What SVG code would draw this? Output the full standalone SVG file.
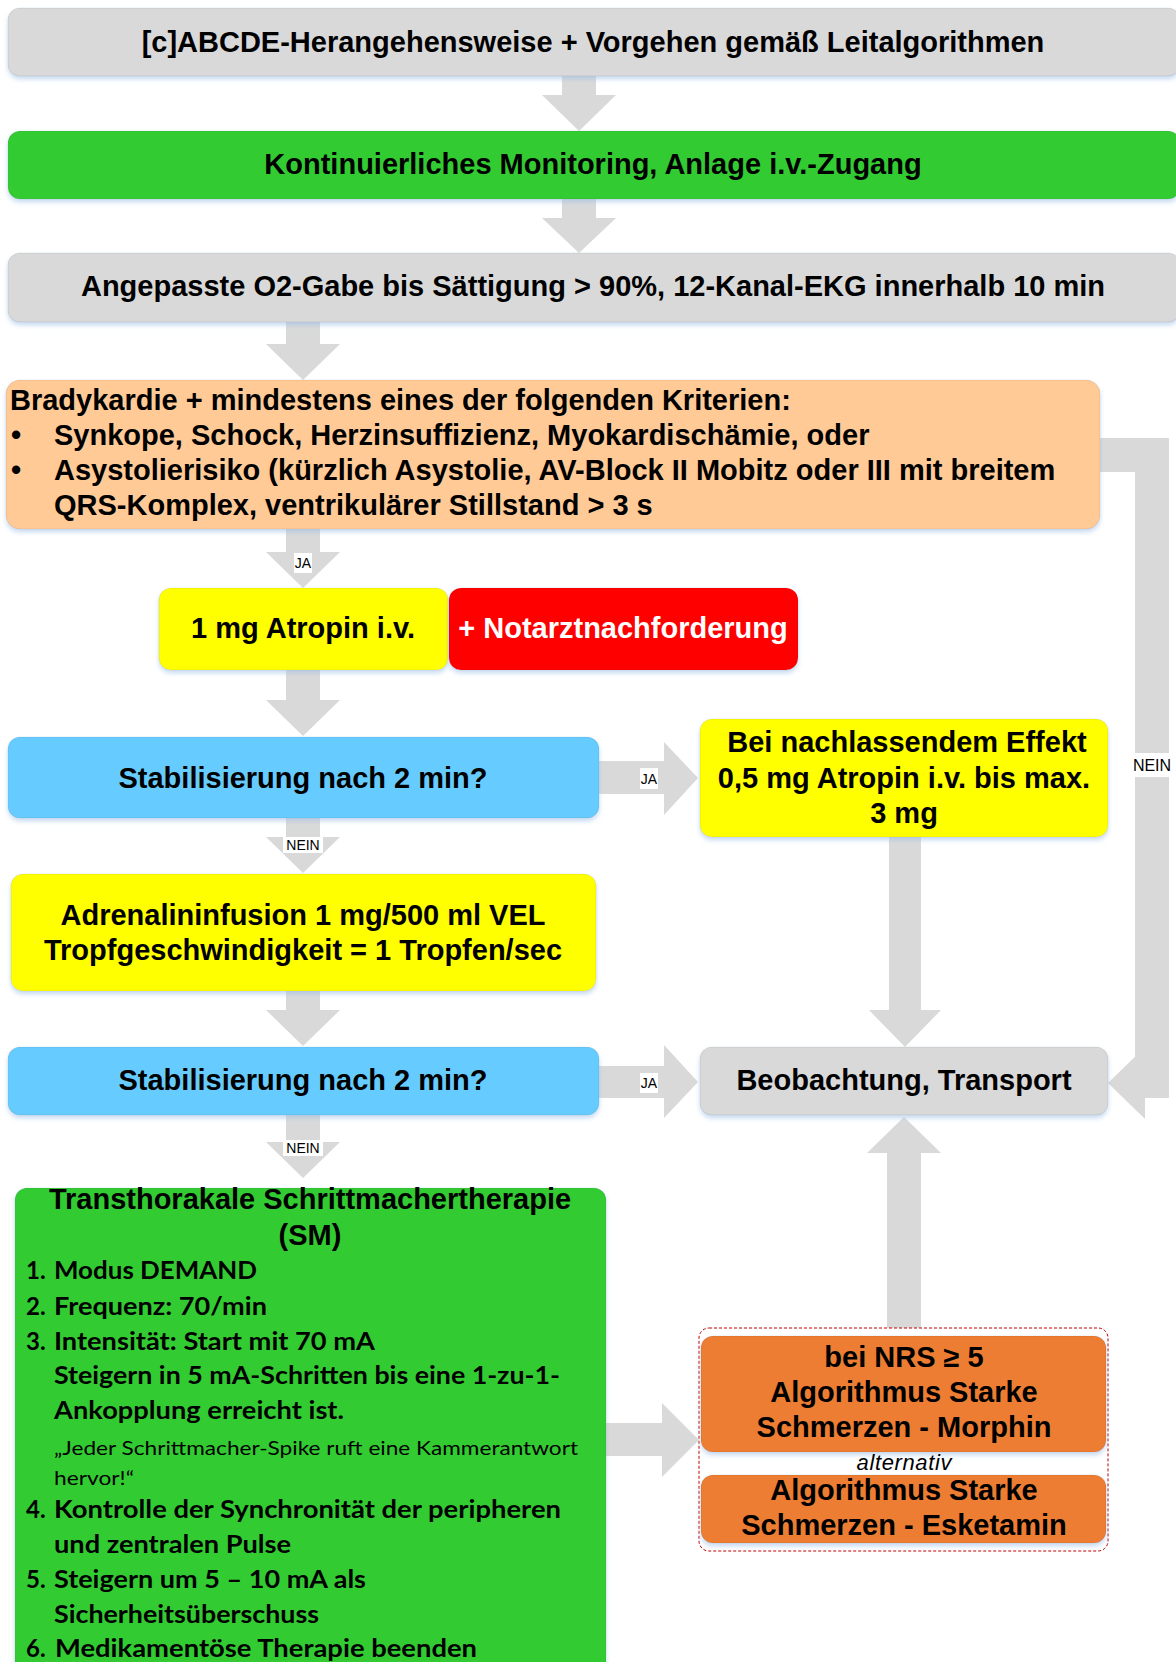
<svg xmlns="http://www.w3.org/2000/svg" width="1176" height="1662" viewBox="0 0 1176 1662">
<defs>
<filter id="sh" x="-5%" y="-10%" width="110%" height="130%">
<feDropShadow dx="0" dy="3" stdDeviation="2.5" flood-color="#9DBFE6" flood-opacity="0.6"/>
</filter>
<style>
.t{font-family:"Liberation Sans",Arial,sans-serif;font-weight:bold;font-size:29px;fill:#000}
.c{text-anchor:middle}
.w{fill:#fff}
.lb{font-family:"Liberation Sans",Arial,sans-serif;font-size:14px;fill:#000;text-anchor:middle}
.cal{font-family:Lato,"Open Sans",sans-serif;font-weight:bold;font-size:24px;fill:#000}
.q{font-family:Lato,"Open Sans",sans-serif;font-size:19px;fill:#000}
.it{font-family:"Liberation Sans",Arial,sans-serif;font-style:italic;font-size:22px;fill:#000;text-anchor:middle}
.ar{fill:#D9D9D9}
.box{filter:url(#sh);stroke:#000;stroke-opacity:0.08;stroke-width:1}
</style>
</defs>
<rect width="1176" height="1662" fill="#fff"/>

<g id="connectors">
<polygon class="ar" points="562,76 596,76 596,95 616,95 579,131 542,95 562,95"/>
<polygon class="ar" points="562,199 596,199 596,218 616,218 579,253 542,218 562,218"/>
<polygon class="ar" points="286,322 320,322 320,344 340,344 303,380 266,344 286,344"/>
<polygon class="ar" points="286,529 320,529 320,552 340,552 303,588 266,552 286,552"/>
<polygon class="ar" points="286,670 320,670 320,700 340,700 303,736 266,700 286,700"/>
<polygon class="ar" points="286,818 320,818 320,837 340,837 303,873 266,837 286,837"/>
<polygon class="ar" points="286,991 320,991 320,1010 340,1010 303,1046 266,1010 286,1010"/>
<polygon class="ar" points="286,1115 320,1115 320,1142 340,1142 303,1178 266,1142 286,1142"/>
<polygon class="ar" points="599,761 664,761 664,742 698,778 664,815 664,794 599,794"/>
<polygon class="ar" points="599,1066 664,1066 664,1045 698,1082 664,1118 664,1098 599,1098"/>
<polygon class="ar" points="606,1423 662,1423 662,1403 699,1440 662,1477 662,1456 606,1456"/>
<polygon class="ar" points="889,837 921,837 921,1010 941,1010 905,1047 869,1010 889,1010"/>
<polygon class="ar" points="887,1336 921,1336 921,1153 941,1153 904,1117 867,1153 887,1153"/>
<rect class="ar" x="1098" y="438" width="71" height="34"/>
<rect class="ar" x="1135" y="438" width="34" height="660"/>
<polygon class="ar" points="1145,1047 1108,1083 1145,1119"/>
<rect x="294" y="553" width="18" height="20" fill="#fff"/>
<text class="lb" x="303" y="568">JA</text>
<rect x="640" y="768" width="18" height="21" fill="#fff"/>
<text class="lb" x="649" y="784">JA</text>
<rect x="640" y="1073" width="18" height="20" fill="#fff"/>
<text class="lb" x="649" y="1088">JA</text>
<rect x="283" y="837" width="40" height="16" fill="#fff"/>
<text class="lb" x="303" y="850">NEIN</text>
<rect x="283" y="1140" width="40" height="16" fill="#fff"/>
<text class="lb" x="303" y="1153">NEIN</text>
<rect x="1131" y="753" width="42" height="24" fill="#fff"/>
<text class="lb" x="1152" y="771" style="font-size:16px">NEIN</text>
</g>

<g id="n1">
<rect class="box" x="8" y="8" width="1172" height="68" rx="12" fill="#D9D9D9"/>
<text class="t c" x="593" y="52">[c]ABCDE-Herangehensweise + Vorgehen gemäß Leitalgorithmen</text>
</g>
<g id="n2">
<rect class="box" x="8" y="131" width="1172" height="68" rx="12" fill="#33CC33"/>
<text class="t c" x="593" y="174">Kontinuierliches Monitoring, Anlage i.v.-Zugang</text>
</g>
<g id="n3">
<rect class="box" x="8" y="253" width="1172" height="69" rx="12" fill="#D9D9D9"/>
<text class="t c" x="593" y="296">Angepasste O2-Gabe bis Sättigung &gt; 90%, 12-Kanal-EKG innerhalb 10 min</text>
</g>
<g id="n4">
<rect class="box" x="6" y="380" width="1094" height="149" rx="14" fill="#FFCA96"/>
<text class="t" x="10" y="410">Bradykardie + mindestens eines der folgenden Kriterien:</text>
<text class="t" x="11" y="445">•</text>
<text class="t" x="54" y="445">Synkope, Schock, Herzinsuffizienz, Myokardischämie, oder</text>
<text class="t" x="11" y="480">•</text>
<text class="t" x="54" y="480">Asystolierisiko (kürzlich Asystolie, AV-Block II Mobitz oder III mit breitem</text>
<text class="t" x="54" y="515">QRS-Komplex, ventrikulärer Stillstand &gt; 3 s</text>
</g>
<g id="n5">
<rect class="box" x="159" y="588" width="289" height="82" rx="12" fill="#FFFF00"/>
<text class="t c" x="303" y="638">1 mg Atropin i.v.</text>
</g>
<g id="n6">
<rect class="box" x="449" y="588" width="349" height="82" rx="12" fill="#FF0000"/>
<text class="t c w" x="623" y="638">+ Notarztnachforderung</text>
</g>
<g id="n7">
<rect class="box" x="8" y="737" width="591" height="81" rx="12" fill="#66CCFF"/>
<text class="t c" x="303" y="788">Stabilisierung nach 2 min?</text>
</g>
<g id="n8">
<rect class="box" x="700" y="719" width="408" height="118" rx="12" fill="#FFFF00"/>
<text class="t c" x="907" y="752">Bei nachlassendem Effekt</text>
<text class="t c" x="904" y="788">0,5 mg Atropin i.v. bis max.</text>
<text class="t c" x="904" y="823">3 mg</text>
</g>
<g id="n9">
<rect class="box" x="11" y="874" width="585" height="117" rx="12" fill="#FFFF00"/>
<text class="t c" x="303" y="925">Adrenalininfusion 1 mg/500 ml VEL</text>
<text class="t c" x="303" y="960">Tropfgeschwindigkeit = 1 Tropfen/sec</text>
</g>
<g id="n10">
<rect class="box" x="8" y="1047" width="591" height="68" rx="12" fill="#66CCFF"/>
<text class="t c" x="303" y="1090">Stabilisierung nach 2 min?</text>
</g>
<g id="n11">
<rect class="box" x="700" y="1047" width="408" height="68" rx="12" fill="#D9D9D9"/>
<text class="t c" x="904" y="1090">Beobachtung, Transport</text>
</g>
<g id="n12">
<rect class="box" x="15" y="1188" width="591" height="500" rx="12" fill="#33CC33"/>
<text class="t c" x="310" y="1209">Transthorakale Schrittmachertherapie</text>
<text class="t c" x="310" y="1245">(SM)</text>
<text class="cal" x="26" y="1279">1.</text>
<text class="cal" x="54" y="1279" textLength="203" lengthAdjust="spacingAndGlyphs">Modus DEMAND</text>
<text class="cal" x="26" y="1315">2.</text>
<text class="cal" x="54" y="1315" textLength="213" lengthAdjust="spacingAndGlyphs">Frequenz: 70/min</text>
<text class="cal" x="26" y="1350">3.</text>
<text class="cal" x="54" y="1350" textLength="321" lengthAdjust="spacingAndGlyphs">Intensität: Start mit 70 mA</text>
<text class="cal" x="54" y="1384" textLength="506" lengthAdjust="spacingAndGlyphs">Steigern in 5 mA-Schritten bis eine 1-zu-1-</text>
<text class="cal" x="54" y="1419" textLength="290" lengthAdjust="spacingAndGlyphs">Ankopplung erreicht ist.</text>
<text class="q" x="54" y="1455" textLength="524" lengthAdjust="spacingAndGlyphs">„Jeder Schrittmacher-Spike ruft eine Kammerantwort</text>
<text class="q" x="54" y="1485" textLength="80" lengthAdjust="spacingAndGlyphs">hervor!“</text>
<text class="cal" x="26" y="1518">4.</text>
<text class="cal" x="54" y="1518" textLength="507" lengthAdjust="spacingAndGlyphs">Kontrolle der Synchronität der peripheren</text>
<text class="cal" x="54" y="1553" textLength="237" lengthAdjust="spacingAndGlyphs">und zentralen Pulse</text>
<text class="cal" x="26" y="1588">5.</text>
<text class="cal" x="54" y="1588" textLength="312" lengthAdjust="spacingAndGlyphs">Steigern um 5 – 10 mA als</text>
<text class="cal" x="54" y="1623" textLength="265" lengthAdjust="spacingAndGlyphs">Sicherheitsüberschuss</text>
<text class="cal" x="26" y="1657">6.</text>
<text class="cal" x="55" y="1657" textLength="422" lengthAdjust="spacingAndGlyphs">Medikamentöse Therapie beenden</text>
</g>
<g id="n13">
<rect x="699" y="1328" width="409" height="223" rx="10" fill="#fff" stroke="#C00000" stroke-width="1" stroke-dasharray="3,2"/>
<g id="n13a">
<rect class="box" x="701" y="1336" width="405" height="116" rx="12" fill="#ED7D31"/>
<text class="t c" x="904" y="1367">bei NRS ≥ 5</text>
<text class="t c" x="904" y="1402">Algorithmus Starke</text>
<text class="t c" x="904" y="1437">Schmerzen - Morphin</text>
</g>
<text class="it" x="904" y="1470" textLength="95" lengthAdjust="spacing">alternativ</text>
<g id="n13b">
<rect class="box" x="701" y="1475" width="405" height="68" rx="12" fill="#ED7D31"/>
<text class="t c" x="904" y="1500">Algorithmus Starke</text>
<text class="t c" x="904" y="1535">Schmerzen - Esketamin</text>
</g>
</g>
</svg>
